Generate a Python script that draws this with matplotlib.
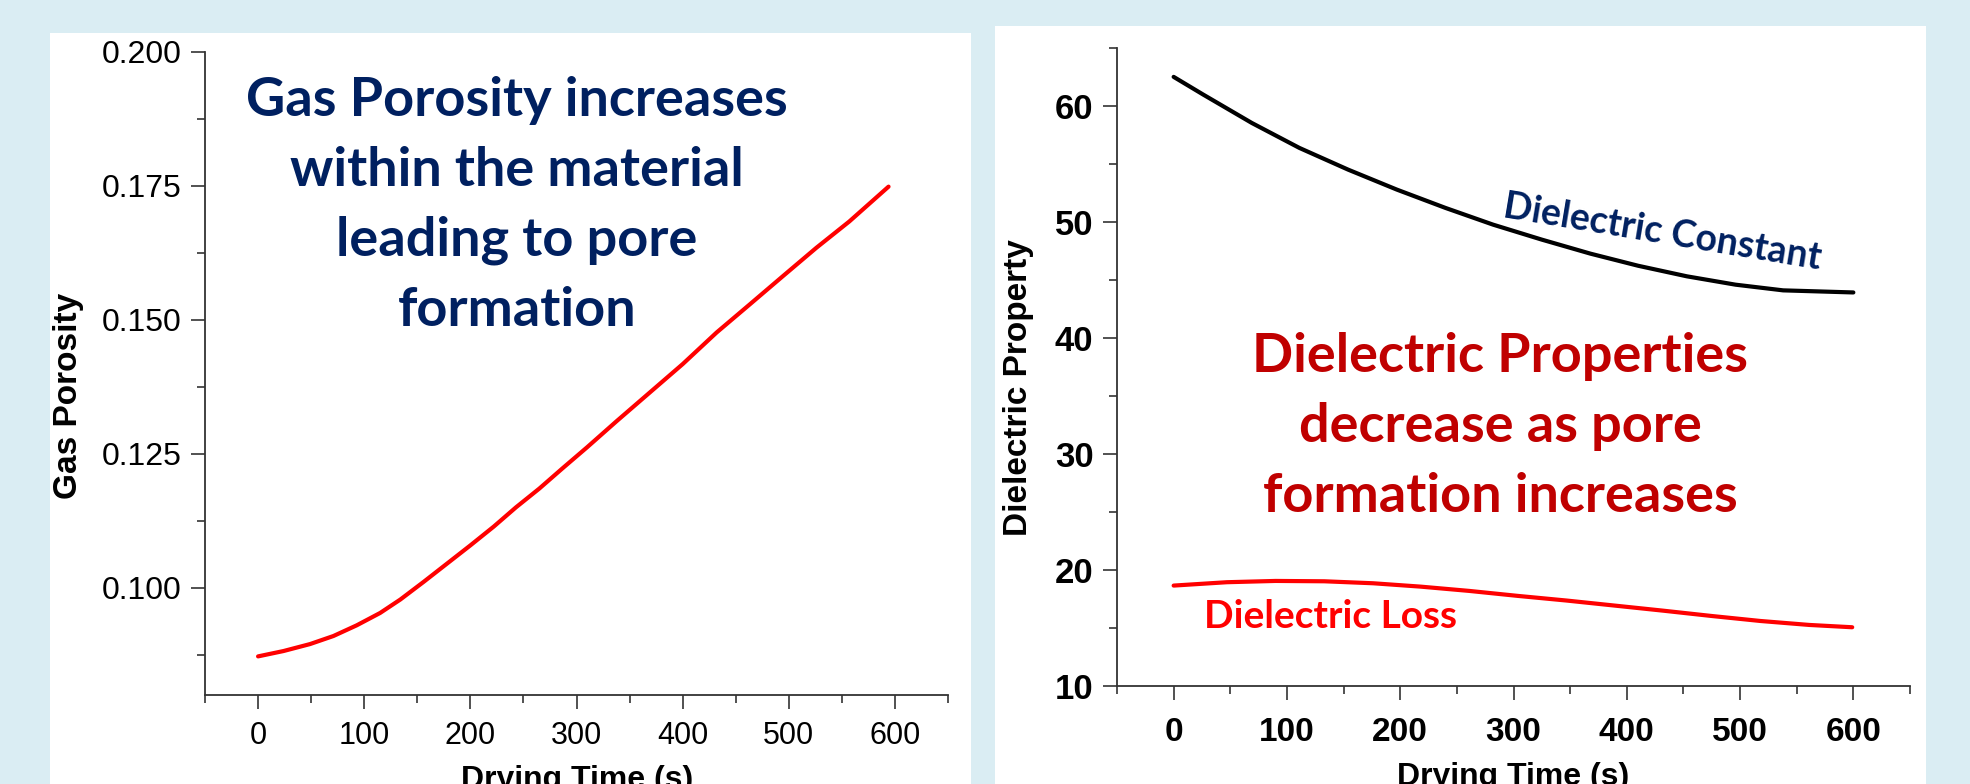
import matplotlib
matplotlib.use("Agg")
import matplotlib.pyplot as plt
import numpy as np
from matplotlib.patches import Rectangle
from matplotlib.ticker import MultipleLocator, FormatStrFormatter

# values
time_gp = [0, 24, 49, 71, 93, 115, 134, 156, 178, 200, 222, 243, 265, 287,
           310, 338, 369, 400, 432, 463, 495, 526, 557, 594]
gas_porosity = [0.0872, 0.0882, 0.0895, 0.0910, 0.0930, 0.0953, 0.0978,
                0.1011, 0.1045, 0.1079, 0.1114, 0.1150, 0.1185, 0.1223,
                0.1262, 0.1311, 0.1364, 0.1417, 0.1476, 0.1528, 0.1582,
                0.1634, 0.1683, 0.1748]

time_dc = [0, 26, 69, 111, 154, 197, 240, 282, 325, 368, 410, 453, 496,
           538, 600]
diel_const = [62.47, 60.95, 58.5, 56.35, 54.48, 52.76, 51.18, 49.74, 48.45,
              47.24, 46.2, 45.29, 44.57, 44.08, 43.9]

time_dl = [0, 47, 90, 133, 176, 218, 261, 304, 347, 390, 432, 475, 518,
           561, 599]
diel_loss = [18.65, 18.94, 19.05, 19.02, 18.85, 18.56, 18.19, 17.76, 17.36,
             16.92, 16.49, 16.03, 15.6, 15.26, 15.06]

left_note = ["Gas Porosity increases", "within the material",
             "leading to pore", "formation"]
right_note = ["Dielectric Properties", "decrease as pore",
              "formation increases"]

W, H = 1970, 784
BG = "#daedf3"
NAVY = "#002060"
DARKRED = "#c00000"
RED = "#ff0000"
AX_COL = "#333333"

plt.rcParams['font.family'] = ['Liberation Sans', 'DejaVu Sans']

fig = plt.figure(figsize=(W / 100, H / 100), dpi=100, facecolor=BG)


def fx(px):
    return px / W


def fy(py):
    return 1 - py / H


# white panels behind the charts
fig.patches.append(Rectangle((fx(50), 0), fx(971) - fx(50), fy(33),
                             transform=fig.transFigure, facecolor="white",
                             edgecolor="none", zorder=-10))
fig.patches.append(Rectangle((fx(995), 0), fx(1926) - fx(995), fy(26),
                             transform=fig.transFigure, facecolor="white",
                             edgecolor="none", zorder=-10))


def style_axes(ax):
    for s in ["top", "right"]:
        ax.spines[s].set_visible(False)
    for s in ["left", "bottom"]:
        ax.spines[s].set_color(AX_COL)
        ax.spines[s].set_linewidth(1.3)
    ax.set_facecolor("none")
    ax.xaxis.set_major_locator(MultipleLocator(100))
    ax.xaxis.set_minor_locator(MultipleLocator(50))
    ax.tick_params(which="both", direction="out", color=AX_COL, width=1.2)
    ax.tick_params(which="major", length=10)
    ax.tick_params(which="minor", length=6)
    ax.tick_params(axis="y", which="major", pad=7)
    ax.set_xlim(-50, 650)


# left chart
ax1 = fig.add_axes([fx(205), fy(695), fx(948) - fx(205), fy(51.5) - fy(695)])
ax1.plot(time_gp, gas_porosity, color=RED, lw=3, solid_capstyle="round")
ax1.set_ylim(0.08, 0.2)
ax1.yaxis.set_major_locator(MultipleLocator(0.025))
ax1.yaxis.set_minor_locator(MultipleLocator(0.0125))
ax1.yaxis.set_major_formatter(FormatStrFormatter("%.3f"))
ax1.set_yticks([0.1, 0.125, 0.15, 0.175, 0.2])
style_axes(ax1)
ax1.tick_params(axis="y", labelsize=23)
ax1.tick_params(axis="x", which="major", labelsize=22, pad=9)

# right chart
ax2 = fig.add_axes([fx(1117), fy(686), fx(1910) - fx(1117), fy(47.5) - fy(686)])
ax2.plot(time_dc, diel_const, color="black", lw=3, solid_capstyle="round")
ax2.plot(time_dl, diel_loss, color=RED, lw=3, solid_capstyle="round")
ax2.set_ylim(10, 65)
ax2.yaxis.set_major_locator(MultipleLocator(10))
ax2.yaxis.set_minor_locator(MultipleLocator(5))
style_axes(ax2)
ax2.tick_params(axis="y", labelsize=25)
ax2.tick_params(axis="x", which="major", labelsize=24, pad=12)
for lab in ax2.get_xticklabels() + ax2.get_yticklabels():
    lab.set_fontweight("bold")

# axis titles
fig.text(fx(69), fy(396), "Gas Porosity", rotation=90, ha="center",
         va="center", fontsize=24, fontweight="bold")
fig.text(fx(1019), fy(388), "Dielectric Property", rotation=90, ha="center",
         va="center", fontsize=24, fontweight="bold")
fig.text(fx(577), fy(765), "Drying Time (s)", ha="center", va="top",
         fontsize=23, fontweight="bold")
fig.text(fx(1513), fy(762), "Drying Time (s)", ha="center", va="top",
         fontsize=23, fontweight="bold")

# annotations
note_font = ["Lato", "DejaVu Sans"]
for i, line in enumerate(left_note):
    fig.text(fx(517), fy(116 + 70 * i), line, ha="center", va="baseline",
             fontsize=39, fontweight="bold", color=NAVY, family=note_font)
for i, line in enumerate(right_note):
    fig.text(fx(1500), fy(372 + 70 * i), line, ha="center", va="baseline",
             fontsize=39, fontweight="bold", color=DARKRED, family=note_font)

fig.text(fx(1661), fy(243), "Dielectric Constant", ha="center",
         va="baseline", rotation=-9.4, rotation_mode="anchor", fontsize=27,
         fontweight="bold", color=NAVY, family=note_font)
fig.text(fx(1331), fy(628), "Dielectric Loss", ha="center", va="baseline",
         fontsize=28, fontweight="bold", color=RED, family=note_font)

fig.savefig("out.png", dpi=100, facecolor=BG)
